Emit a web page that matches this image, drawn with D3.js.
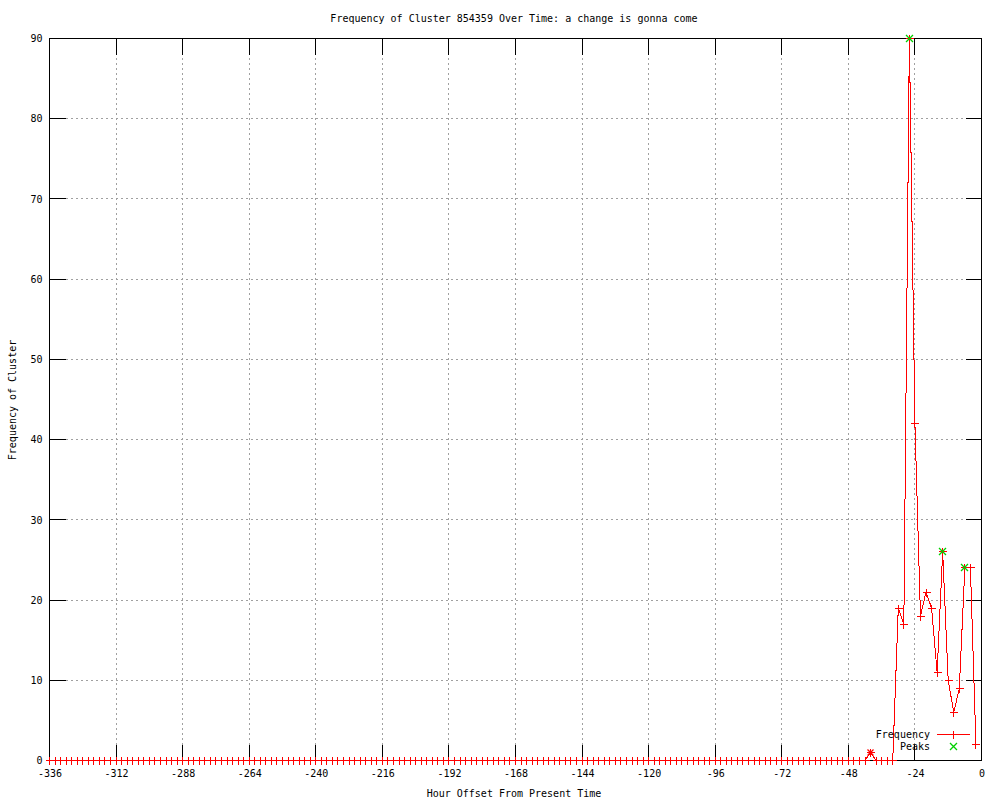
<!DOCTYPE html>
<html><head><meta charset="utf-8">
<script src="https://cdn.jsdelivr.net/npm/d3@7"></script>
<style>
html,body{margin:0;padding:0;background:#fff;}
text{font-family:"DejaVu Sans Mono","Liberation Mono",monospace;font-size:10px;fill:#000;}
</style></head>
<body>
<svg id="c" width="1000" height="800"></svg>
<script>
const title = "Frequency of Cluster 854359 Over Time: a change is gonna come";
const xLabel = "Hour Offset From Present Time";
const yLabel = "Frequency of Cluster";

const hours = [
-336,-334,-332,-330,-328,-326,-324,-322,-320,-318,-316,-314,
-312,-310,-308,-306,-304,-302,-300,-298,-296,-294,-292,-290,
-288,-286,-284,-282,-280,-278,-276,-274,-272,-270,-268,-266,
-264,-262,-260,-258,-256,-254,-252,-250,-248,-246,-244,-242,
-240,-238,-236,-234,-232,-230,-228,-226,-224,-222,-220,-218,
-216,-214,-212,-210,-208,-206,-204,-202,-200,-198,-196,-194,
-192,-190,-188,-186,-184,-182,-180,-178,-176,-174,-172,-170,
-168,-166,-164,-162,-160,-158,-156,-154,-152,-150,-148,-146,
-144,-142,-140,-138,-136,-134,-132,-130,-128,-126,-124,-122,
-120,-118,-116,-114,-112,-110,-108,-106,-104,-102,-100,-98,
-96,-94,-92,-90,-88,-86,-84,-82,-80,-78,-76,-74,
-72,-70,-68,-66,-64,-62,-60,-58,-56,-54,-52,-50,
-48,-46,-44,-42,-40,-38,-36,-34,-32,-30,-28,-26,
-24,-22,-20,-18,-16,-14,-12,-10,-8,-6,-4,-2
];
const frequency = [
0,0,0,0,0,0,0,0,0,0,0,0,
0,0,0,0,0,0,0,0,0,0,0,0,
0,0,0,0,0,0,0,0,0,0,0,0,
0,0,0,0,0,0,0,0,0,0,0,0,
0,0,0,0,0,0,0,0,0,0,0,0,
0,0,0,0,0,0,0,0,0,0,0,0,
0,0,0,0,0,0,0,0,0,0,0,0,
0,0,0,0,0,0,0,0,0,0,0,0,
0,0,0,0,0,0,0,0,0,0,0,0,
0,0,0,0,0,0,0,0,0,0,0,0,
0,0,0,0,0,0,0,0,0,0,0,0,
0,0,0,0,0,0,0,0,0,0,0,0,
0,0,0,0,1,0,0,0,0,19,17,90,
42,18,21,19,11,26,10,6,9,24,24,2
];
const peakHours = [-26, -14, -6];
const peakValues = [90, 26, 24];
const starHours = [-40];
const starValues = [1];

const xTicks = [-336,-312,-288,-264,-240,-216,-192,-168,-144,-120,-96,-72,-48,-24,0];
const yTicks = [0,10,20,30,40,50,60,70,80,90];

const svg = d3.select("#c");
const L = 49.5, R = 981.5, T = 38.5, B = 760.5;
const x = d3.scaleLinear().domain([-336, 0]).range([L, R]);
const y = d3.scaleLinear().domain([0, 90]).range([B, T]);
const TL = 16;
const GREEN = "#00d000";

// grid
const grid = svg.append("g").attr("stroke", "#a0a0a0").attr("stroke-dasharray", "2,3").attr("shape-rendering","crispEdges");
xTicks.filter(t => t > -336 && t < 0).forEach(t => {
  const px = Math.round(x(t) - 0.5) + 0.5;
  grid.append("line").attr("x1", px).attr("x2", px).attr("y1", B - TL).attr("y2", T + TL);
});
yTicks.filter(t => t > 0 && t < 90).forEach(t => {
  const py = Math.round(y(t) - 0.5) + 0.5;
  grid.append("line").attr("y1", py).attr("y2", py).attr("x1", L + TL).attr("x2", R - TL);
});

// axes with d3
const axB = d3.axisBottom(x).tickValues(xTicks).tickSize(0).tickPadding(9).tickFormat(d => d === 0 ? "0" : d3.format("d")(d).replace("−","-"));
const gB = svg.append("g").attr("transform", `translate(0,${B})`).call(axB);
gB.select(".domain").remove();
gB.selectAll("text").attr("font-family", null).attr("font-size", null);

const axL = d3.axisLeft(y).tickValues(yTicks).tickSize(0).tickPadding(7);
const gL = svg.append("g").attr("transform", `translate(${L},0)`).call(axL);
gL.select(".domain").remove();
gL.selectAll("text").attr("font-family", null).attr("font-size", null);

// tick marks (inward, mirrored)
const tk = svg.append("g").attr("stroke", "#000").attr("shape-rendering","crispEdges");
xTicks.forEach(t => {
  const px = Math.round(x(t) - 0.5) + 0.5;
  tk.append("line").attr("x1", px).attr("x2", px).attr("y1", B).attr("y2", B - TL);
  tk.append("line").attr("x1", px).attr("x2", px).attr("y1", T).attr("y2", T + TL);
});
yTicks.forEach(t => {
  const py = Math.round(y(t) - 0.5) + 0.5;
  tk.append("line").attr("y1", py).attr("y2", py).attr("x1", L).attr("x2", L + TL);
  tk.append("line").attr("y1", py).attr("y2", py).attr("x1", R).attr("x2", R - TL);
});

// frame
svg.append("rect").attr("x", L).attr("y", T).attr("width", R - L).attr("height", B - T)
  .attr("fill", "none").attr("stroke", "#000").attr("shape-rendering","crispEdges");

// data line
const data = hours.map((h, i) => ({h, v: frequency[i]}));
svg.append("path").datum(data)
  .attr("fill", "none").attr("stroke", "#ff0000").attr("stroke-width", 1)
  .attr("shape-rendering", "crispEdges")
  .attr("d", d3.line().x(d => x(d.h)).y(d => y(d.v)));

const plus = (g, cx, cy, s, col) => {
  cx = Math.round(cx - 0.5) + 0.5;
  g.append("path").attr("d", `M${cx - s},${cy}H${cx + s}M${cx},${cy - s}V${cy + s}`)
    .attr("stroke", col).attr("fill", "none").attr("stroke-width", 1).attr("shape-rendering","crispEdges");
};
const cross = (g, cx, cy, s, col) => {
  cx = Math.round(cx - 0.5) + 0.5;
  g.append("path").attr("d", `M${cx - s},${cy - s}L${cx + s},${cy + s}M${cx - s},${cy + s}L${cx + s},${cy - s}`)
    .attr("stroke", col).attr("fill", "none").attr("stroke-width", 1.3);
};
const pts = svg.append("g");
data.forEach(d => plus(pts, x(d.h), Math.round(y(d.v) - 0.5) + 0.5, 4, "#ff0000"));
starHours.forEach((h, i) => cross(pts, x(h), Math.round(y(starValues[i]) - 0.5) + 0.5, 3, "#ff0000"));
peakHours.forEach((h, i) => cross(pts, x(h), Math.round(y(peakValues[i]) - 0.5) + 0.5, 3.5, GREEN));

// legend
const lg = svg.append("g");
lg.append("text").attr("x", 930).attr("y", 734).attr("dy", "0.35em").attr("text-anchor", "end").text("Frequency");
lg.append("line").attr("x1", 937).attr("x2", 970).attr("y1", 734.5).attr("y2", 734.5).attr("stroke", "#ff0000").attr("shape-rendering","crispEdges");
plus(lg, 953.5, 734.5, 4, "#ff0000");
lg.append("text").attr("x", 930).attr("y", 746).attr("dy", "0.35em").attr("text-anchor", "end").text("Peaks");
cross(lg, 953.5, 746.5, 3.5, GREEN);

// titles
svg.append("text").attr("x", 514).attr("y", 22).attr("text-anchor", "middle").text(title);
svg.append("text").attr("x", 514).attr("y", 797).attr("text-anchor", "middle").text(xLabel);
svg.append("text").attr("transform", "translate(16,400) rotate(-90)").attr("text-anchor", "middle").text(yLabel);
</script>
</body></html>
